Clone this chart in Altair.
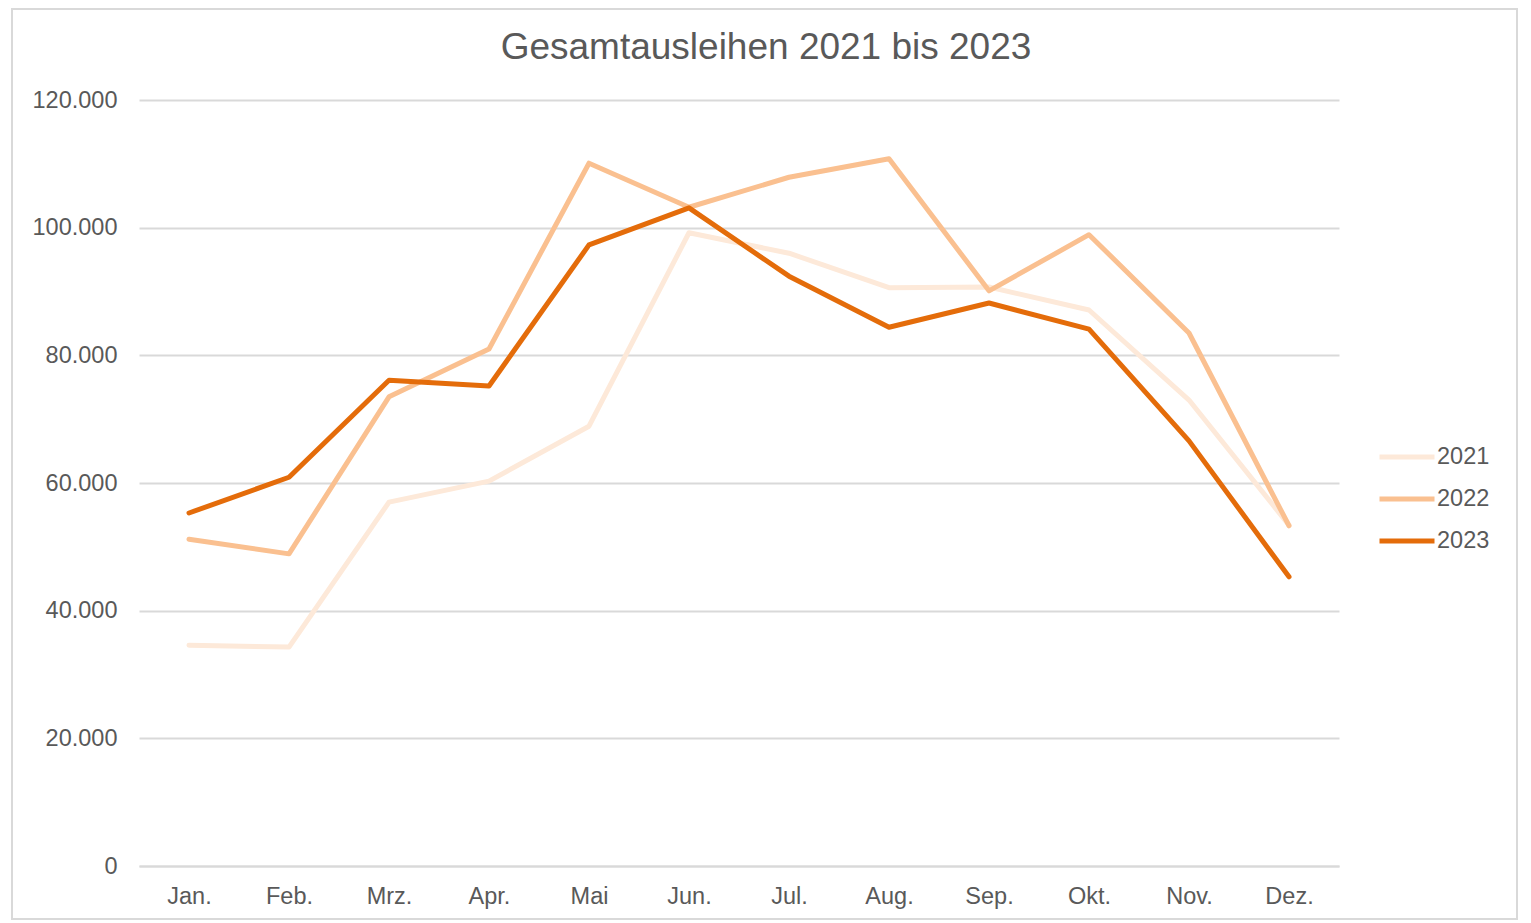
import altair as alt
import pandas as pd

months = ["Jan.", "Feb.", "Mrz.", "Apr.", "Mai", "Jun.", "Jul.", "Aug.", "Sep.", "Okt.", "Nov.", "Dez."]
years = ["2021", "2022", "2023"]
v2021 = [34600, 34300, 57000, 60300, 68900, 99200, 96000, 90600, 90700, 87100, 73000, 53400]
v2022 = [51200, 48900, 73500, 81000, 110100, 103200, 107900, 110800, 90100, 98900, 83500, 53300]
v2023 = [55300, 60900, 76100, 75200, 97300, 103100, 92400, 84400, 88200, 84100, 66600, 45300]
colors = ["#FDE9D9", "#FAC090", "#E46C0A"]

rows = []
for yr, vals in zip(years, [v2021, v2022, v2023]):
    for m, v in zip(months, vals):
        rows.append({"Monat": m, "Jahr": yr, "Wert": v})
df = pd.DataFrame(rows)

FONT = "Liberation Sans"
GREY = "#595959"
FS = 23.5

lines = alt.Chart(df).mark_line(strokeWidth=5, strokeCap="round", strokeJoin="round").encode(
    x=alt.X("Monat:N", sort=months, title=None,
            scale=alt.Scale(paddingOuter=0.5),
            axis=alt.Axis(labelAngle=0, labelFontSize=FS, labelColor=GREY, labelFont=FONT,
                          ticks=False, domain=True, domainColor="#d9d9d9", domainWidth=2,
                          labelPadding=18, grid=False)),
    y=alt.Y("Wert:Q", title=None,
            scale=alt.Scale(domain=[0, 120000], nice=False),
            axis=alt.Axis(values=[0, 20000, 40000, 60000, 80000, 100000, 120000],
                          labelExpr="replace(format(datum.value, ',d'), ',', '.')",
                          labelFontSize=FS, labelColor=GREY, labelFont=FONT,
                          ticks=False, domain=False, gridColor="#d9d9d9", gridWidth=2,
                          labelPadding=22)),
    color=alt.Color("Jahr:N", sort=years,
                    scale=alt.Scale(domain=years, range=colors),
                    legend=alt.Legend(title=None, orient="none", legendX=1238, legendY=327,
                                      symbolType="stroke", symbolSize=3025, symbolStrokeWidth=5,
                                      labelFontSize=FS, labelColor=GREY, labelFont=FONT,
                                      labelOffset=0, rowPadding=-11.5, padding=0)),
    order=alt.Order("Jahr:N"),
)

border = alt.Chart(pd.DataFrame({"a": [0]})).mark_rect(
    fill=None, stroke="#d9d9d9", strokeWidth=2
).encode(
    x=alt.value(-127), x2=alt.value(1378), y=alt.value(-91), y2=alt.value(819)
)

chart = alt.layer(border, lines).properties(
    width=1200, height=766,
    title=alt.TitleParams("Gesamtausleihen 2021 bis 2023", fontSize=37, font=FONT,
                          fontWeight="normal", color=GREY, anchor="middle", dx=27,
                          baseline="alphabetic", offset=-88),
    autosize=alt.AutoSizeParams(type="none"),
    padding={"left": 131, "top": 92, "right": 182, "bottom": 56},
).configure_view(stroke=None)

chart.save("out.html", embed_options={"renderer": "svg", "actions": False})
